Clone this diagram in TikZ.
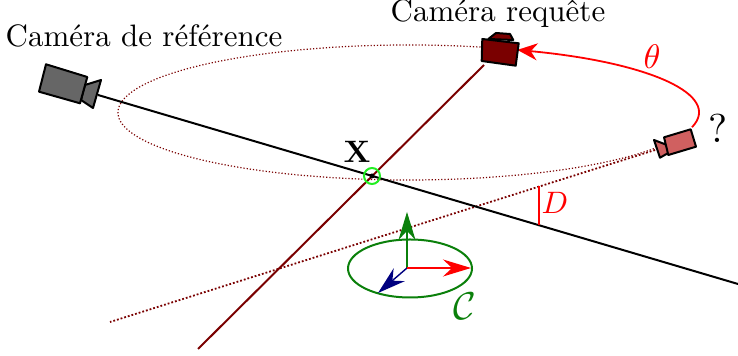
\documentclass[tikz,border=0pt]{standalone}
\usepackage{amsmath}
\usetikzlibrary{arrows.meta,positioning}
\definecolor{QueryRed}{HTML}{7A0000}
\definecolor{CamRed}{HTML}{D06060}
\definecolor{CamGray}{HTML}{666666}
\definecolor{FrameGreen}{HTML}{0B800B}
\definecolor{FrameBlue}{HTML}{00007F}
\definecolor{CrossGreen}{HTML}{22EE22}

\begin{document}
\begin{tikzpicture}[x=0.5pt,y=-0.5pt]
    \tikzset{lbl/.style={inner sep=0pt,scale=1.55},
      cam/.style={draw=black,line width=1pt,line join=round},
      axis/.style={line width=0.7pt,-{Stealth[length=14pt,width=8.5pt]}}}
    \useasboundingbox (0,0) rectangle (738,356);
    % points
    \coordinate (orbit) at (408.5,112.5);
    \coordinate (refeye) at (98,95);
    \coordinate (refend) at (738,284);
    \coordinate (queryeye) at (484,65);
    \coordinate (queryend) at (198,349);
    \coordinate (guesseye) at (655,150);
    \coordinate (guessend) at (110,322);
    \coordinate (cross) at (372,176);
    \coordinate (dtop) at (539,186);
    \coordinate (dbot) at (539,225);
    \coordinate (frame) at (407,268);
    \coordinate (framex) at (471,268);
    \coordinate (framey) at (407,212);
    \coordinate (framez) at (378,293);
    % orbit
    \draw[QueryRed,line width=0.6pt,densely dotted] ([shift={(-75:290.5 and 67.5)}]orbit) arc[start angle=-75,end angle=-330,x radius=290.5,y radius=67.5];
    \draw[red,line width=0.9pt,-{Stealth[length=10pt,width=8.5pt]}] ([shift={(12.6:290.5 and 67.5)}]orbit) arc[start angle=12.6,end angle=-68,x radius=290.5,y radius=67.5];
    % rays
    \draw[QueryRed,line width=0.9pt,densely dotted] (guesseye) -- (guessend);
    \draw[QueryRed,line width=1pt] (queryeye) -- (queryend);
    \draw[black,line width=1pt] (refeye) -- (refend);
    \draw[red,line width=0.9pt] (dtop) -- (dbot);
    \fill[black] (cross) circle (2.5);
    \draw[CrossGreen,line width=1pt] (cross) circle (8);
    % cameras
    \draw[cam,fill=CamGray] (85,85) -- (101,80) -- (93,108) -- (81,100) -- cycle;
    \draw[cam,fill=CamGray] (46,64.3) -- (87.3,77) -- (80,103.3) -- (39,91.7) -- cycle;
    \draw[cam,fill=QueryRed] (488.3,39) -- (496,33) -- (510,34) -- (513.3,40) -- cycle;
    \draw[cam,fill=QueryRed] (482.3,39) -- (518.7,43.3) -- (515.7,65.7) -- (481.7,61) -- cycle;
    \draw[cam,fill=CamRed] (667,145) -- (654,140) -- (660,157.7) -- (670,152) -- cycle;
    \draw[cam,fill=CamRed] (664,137.3) -- (690.7,129.3) -- (696,146.7) -- (668.3,155) -- cycle;
    % frame
    \draw[FrameGreen,line width=1pt] (410,268.5) ellipse [x radius=62,y radius=29];
    \draw[axis,FrameGreen] (frame) -- (framey);
    \draw[axis,FrameBlue] (frame) -- (framez);
    \draw[axis,red] (frame) -- (framex);
    % labels
    \node[lbl,anchor=base] (reflabel) at (144,47) {Caméra de référence};
    \node[lbl,anchor=base] (querylabel) at (498,21.5) {Caméra requête};
    \node[lbl] (xlabel) at (357,152) {$\mathbf{X}$};
    \node[lbl,text=red,scale=1.1] (thetalabel) at (652,57) {$\theta$};
    \node[lbl,scale=1.3] (guesslabel) at (718,128) {?};
    \node[lbl,text=red] (dlabel) at (555,203) {$D$};
    \node[lbl,text=FrameGreen,scale=1.25] (framelabel) at (465,306) {$\mathcal{C}$};
\end{tikzpicture}
\end{document}
